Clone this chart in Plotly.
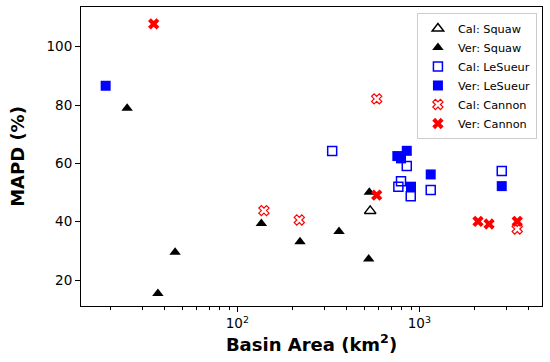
import plotly.graph_objects as go

# Data (basin area km2, MAPD %)
cal_squaw_x = [537]
cal_squaw_y = [43.7]
ver_squaw_x = [24.8, 36.6, 45.5, 135.5, 221, 362, 527, 531]
ver_squaw_y = [78.9, 15.4, 29.5, 39.4, 33.1, 36.6, 27.2, 50.1]

cal_lesueur_x = [332, 853, 793, 767, 897, 1155, 2837]
cal_lesueur_y = [64.2, 59.1, 53.9, 52.0, 48.7, 50.9, 57.4]
ver_lesueur_x = [18.9, 757, 793, 853, 900, 1155, 2837]
ver_lesueur_y = [86.6, 62.5, 61.7, 64.3, 52.0, 56.2, 52.2]

cal_cannon_x = [140, 219, 583, 3451]
cal_cannon_y = [43.8, 40.6, 82.1, 37.5]
ver_cannon_x = [34.7, 583, 2101, 2416, 3451]
ver_cannon_y = [107.8, 49.1, 40.1, 39.2, 40.1]

x_major = [100, 1000]
x_major_text = ["10<sup>2</sup>", "10<sup>3</sup>"]
x_minor = [20, 30, 40, 50, 60, 70, 80, 90, 200, 300, 400, 500, 600, 700, 800, 900, 2000, 3000, 4000]
y_ticks = [20, 40, 60, 80, 100]

FONT = "DejaVu Sans"

fig = go.Figure()

def add(name, xs, ys, symbol, color, size, line_w=1.5):
    fig.add_trace(go.Scatter(
        x=xs, y=ys, mode="markers", name=name,
        marker=dict(symbol=symbol, color=color, size=size,
                    line=dict(color=color, width=line_w)),
    ))

add("Cal: Squaw", cal_squaw_x, cal_squaw_y, "triangle-up-open", "black", 10)
add("Ver: Squaw", ver_squaw_x, ver_squaw_y, "triangle-up", "black", 10, 0)
add("Cal: LeSueur", cal_lesueur_x, cal_lesueur_y, "square-open", "#0000ff", 9)
add("Ver: LeSueur", ver_lesueur_x, ver_lesueur_y, "square", "#0000ff", 10, 0)
add("Cal: Cannon", cal_cannon_x, cal_cannon_y, "x-open", "#ff0000", 9, 1.2)
add("Ver: Cannon", ver_cannon_x, ver_cannon_y, "x", "#ff0000", 10, 0)

fig.update_layout(
    width=550, height=362,
    margin=dict(l=81, r=8, t=7, b=56),
    paper_bgcolor="white", plot_bgcolor="white",
    font=dict(family=FONT, size=13.5, color="black"),
    showlegend=True,
    legend=dict(
        x=0.989, y=0.98, xanchor="right", yanchor="top",
        bgcolor="white", bordercolor="#cccccc", borderwidth=1,
        font=dict(family=FONT, size=11.3),
        tracegroupgap=0, itemwidth=30,
    ),
    xaxis=dict(
        type="log", range=[1.141, 3.674], automargin=False,
        tickvals=x_major, ticktext=x_major_text,
        ticks="outside", ticklen=5, tickwidth=1, tickcolor="black",
        minor=dict(tickvals=x_minor, ticks="outside", ticklen=3, tickwidth=0.8, tickcolor="black"),
        showgrid=False, zeroline=False,
        showline=True, linecolor="black", linewidth=1, mirror=True,
        title=dict(text="<b>Basin Area (km<sup>2</sup>)</b>", font=dict(family=FONT, size=18), standoff=2),
    ),
    yaxis=dict(
        range=[11.1, 113.6], automargin=False,
        tickvals=y_ticks,
        ticks="outside", ticklen=5, tickwidth=1, tickcolor="black",
        showgrid=False, zeroline=False,
        showline=True, linecolor="black", linewidth=1, mirror=True,
        title=dict(text="<b>MAPD (%)</b>", font=dict(family=FONT, size=18), standoff=17),
    ),
)

fig.write_html("out.html", config={"displayModeBar": False},
               post_script="document.body.style.margin='0';")
